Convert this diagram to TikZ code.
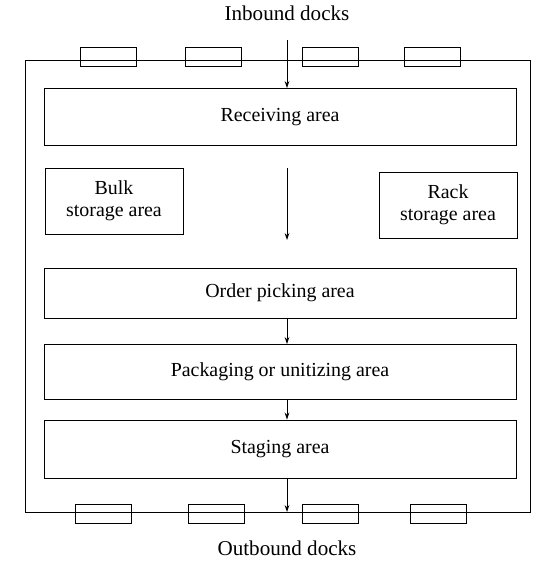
\documentclass[tikz,border=0pt]{standalone}
\usepackage{fontspec}
\setmainfont{Liberation Serif}
\usetikzlibrary{arrows.meta}

\begin{document}
\begin{tikzpicture}[
    x=0.03cm, y=-0.03cm,
    >={Stealth[length=6pt,width=4pt]},
    every path/.style={line width=0.8pt},
    areanode/.style={rectangle, draw, minimum width=472*0.03cm, inner sep=0pt, font=\fontsize{17}{19}\selectfont},
    sidenode/.style={rectangle, draw, minimum width=138*0.03cm, minimum height=66*0.03cm, align=center, font=\fontsize{17}{19}\selectfont},
    docknode/.style={rectangle, draw, minimum width=56*0.03cm, minimum height=19*0.03cm},
    labelnode/.style={font=\fontsize{18}{20}\selectfont},
    ]
    \useasboundingbox (0,0) rectangle (553,563);
    %Walls
    \draw (25,60) rectangle (530,512);

    %Nodes
    \node[labelnode]                              (inlabel)  at (287,13)  {Inbound docks};
    \node[labelnode]                              (outlabel) at (287,548) {Outbound docks};
    \node[areanode, minimum height=57*0.03cm]     (recv)     at (280,117) {Receiving area};
    \node[sidenode]                               (bulk)     at (114,201) {Bulk\\storage area};
    \node[sidenode]                               (rack)     at (448,205) {Rack\\storage area};
    \node[areanode, minimum height=50*0.03cm]     (pick)     at (280,293) {Order picking area};
    \node[areanode, minimum height=55*0.03cm]     (pack)     at (280,372) {Packaging or unitizing area};
    \node[areanode, minimum height=58*0.03cm]     (stage)    at (280,449) {Staging area};

    %Docks
    \foreach \dx [count=\i] in {108,213,330,432} {
        \node[docknode] (indock\i) at (\dx,57) {};
    }
    \foreach \dx [count=\i] in {103,216,330,438} {
        \node[docknode] (outdock\i) at (\dx,514) {};
    }

    \coordinate (inb)   at (287,40);
    \coordinate (midtop) at (287,168);
    \coordinate (midbot) at (287,240);
    \coordinate (outb)  at (287,512);

    %Lines
    \draw[->] (inb) -- (recv.north -| inb);
    \draw[->] (midtop) -- (midbot);
    \draw[->] (pick.south -| inb) -- (pack.north -| inb);
    \draw[->] (pack.south -| inb) -- (stage.north -| inb);
    \draw[->] (stage.south -| inb) -- (outb);
\end{tikzpicture}
\end{document}
